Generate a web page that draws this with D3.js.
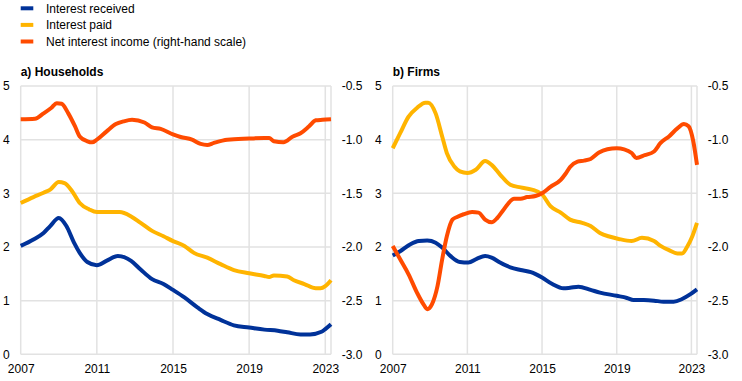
<!DOCTYPE html>
<html><head><meta charset="utf-8">
<script src="https://cdn.jsdelivr.net/npm/d3@7"></script>
<style>
body{margin:0;background:#fff;}
text{font-family:"Liberation Sans",Arial,sans-serif;font-size:12px;fill:#000;}
</style></head>
<body><svg id="c" width="742" height="381"></svg>
<script>
const seriesNames = ["Interest received","Interest paid","Net interest income (right-hand scale)"];
const seriesColors = ["#003299","#FFB400","#FF4B00"];
const panelTitles = ["a) Households","b) Firms"];
const xTickYears = [2007,2011,2015,2019,2023];
const leftTicks = [0,1,2,3,4,5];
const rightTicks = [-3.0,-2.5,-2.0,-1.5,-1.0,-0.5];

// Households
const hhReceived = [[2007.0,2.02],[2007.67,2.14],[2008.2,2.26],[2008.55,2.39],[2009.0,2.54],[2009.4,2.39],[2009.8,2.08],[2010.1,1.89],[2010.5,1.72],[2011.0,1.66],[2011.5,1.74],[2012.1,1.83],[2012.8,1.74],[2013.3,1.58],[2013.9,1.40],[2014.5,1.31],[2015.0,1.20],[2015.6,1.06],[2016.3,0.87],[2016.8,0.75],[2017.5,0.64],[2018.2,0.54],[2019.0,0.50],[2019.8,0.46],[2020.5,0.44],[2021.0,0.41],[2021.7,0.37],[2022.2,0.37],[2022.8,0.42],[2023.0,0.47],[2023.3,0.56]];
const hhPaid = [[2007.0,2.82],[2007.67,2.93],[2008.2,3.01],[2008.55,3.07],[2009.0,3.21],[2009.3,3.19],[2009.7,3.04],[2010.1,2.82],[2010.6,2.70],[2011.0,2.65],[2011.5,2.65],[2012.2,2.65],[2012.8,2.57],[2013.3,2.45],[2013.9,2.30],[2014.5,2.20],[2015.0,2.11],[2015.6,2.02],[2016.1,1.89],[2016.8,1.80],[2017.5,1.68],[2018.2,1.57],[2019.0,1.51],[2019.8,1.46],[2020.05,1.44],[2020.3,1.47],[2021.0,1.45],[2021.35,1.38],[2021.9,1.31],[2022.5,1.23],[2022.75,1.23],[2023.0,1.27],[2023.3,1.38]];
const hhNet = [[2007.0,-0.81],[2007.75,-0.805],[2008.2,-0.755],[2008.6,-0.705],[2008.9,-0.66],[2009.15,-0.665],[2009.5,-0.755],[2009.85,-0.875],[2010.1,-0.97],[2010.5,-1.015],[2010.75,-1.025],[2011.0,-1.0],[2011.5,-0.925],[2012.0,-0.855],[2012.4,-0.83],[2012.85,-0.815],[2013.5,-0.84],[2013.9,-0.885],[2014.35,-0.90],[2015.0,-0.95],[2015.4,-0.975],[2016.0,-1.0],[2016.45,-1.04],[2016.8,-1.05],[2017.15,-1.03],[2017.85,-1.0],[2019.0,-0.99],[2019.8,-0.985],[2020.05,-0.985],[2020.3,-1.015],[2020.8,-1.025],[2021.3,-0.97],[2021.7,-0.94],[2022.15,-0.875],[2022.5,-0.82],[2022.85,-0.815],[2023.3,-0.81]];

// Firms
const fiReceived = [[2007.0,1.84],[2007.4,1.92],[2007.95,2.05],[2008.4,2.11],[2008.85,2.12],[2009.3,2.08],[2009.65,1.99],[2010.1,1.83],[2010.6,1.72],[2011.05,1.71],[2011.5,1.78],[2011.95,1.83],[2012.3,1.80],[2012.75,1.71],[2013.3,1.62],[2013.85,1.57],[2014.4,1.53],[2015.0,1.43],[2015.55,1.31],[2016.15,1.23],[2016.5,1.24],[2016.95,1.26],[2017.6,1.20],[2018.1,1.15],[2019.0,1.09],[2019.55,1.05],[2019.9,1.01],[2020.45,1.01],[2021.0,1.00],[2021.5,0.98],[2022.05,0.98],[2022.5,1.03],[2022.95,1.12],[2023.3,1.21]];
const fiPaid = [[2007.0,3.84],[2007.4,4.12],[2007.85,4.43],[2008.3,4.59],[2008.75,4.69],[2008.9,4.69],[2009.3,4.49],[2009.65,4.06],[2009.9,3.75],[2010.3,3.50],[2010.6,3.41],[2011.0,3.38],[2011.45,3.44],[2011.95,3.60],[2012.3,3.53],[2012.75,3.35],[2013.3,3.16],[2013.85,3.11],[2014.45,3.07],[2015.0,2.98],[2015.45,2.76],[2016.0,2.64],[2016.5,2.51],[2017.15,2.45],[2017.6,2.39],[2018.1,2.26],[2018.65,2.19],[2019.1,2.15],[2019.8,2.11],[2020.35,2.17],[2021.0,2.11],[2021.35,2.02],[2021.8,1.94],[2022.25,1.88],[2022.5,1.88],[2022.75,1.99],[2023.05,2.20],[2023.3,2.45]];
const fiNet = [[2007.0,-1.99],[2007.4,-2.115],[2007.85,-2.255],[2008.3,-2.425],[2008.65,-2.535],[2008.85,-2.58],[2009.1,-2.535],[2009.4,-2.365],[2009.65,-2.115],[2009.9,-1.90],[2010.2,-1.745],[2010.45,-1.72],[2010.8,-1.695],[2011.25,-1.675],[2011.6,-1.68],[2011.95,-1.745],[2012.3,-1.77],[2012.6,-1.73],[2012.95,-1.65],[2013.5,-1.55],[2013.85,-1.55],[2014.2,-1.535],[2014.65,-1.525],[2015.0,-1.50],[2015.45,-1.44],[2016.0,-1.375],[2016.25,-1.32],[2016.5,-1.255],[2016.9,-1.205],[2017.25,-1.195],[2017.6,-1.18],[2018.05,-1.12],[2018.5,-1.09],[2019.0,-1.08],[2019.4,-1.09],[2019.8,-1.125],[2020.05,-1.17],[2020.5,-1.145],[2021.0,-1.11],[2021.35,-1.03],[2021.8,-0.97],[2022.25,-0.895],[2022.6,-0.855],[2022.85,-0.875],[2023.1,-1.015],[2023.3,-1.235]];

const panels = [
  {title: panelTitles[0], x0: 20.7, x1: 331, data: [hhReceived, hhPaid, hhNet]},
  {title: panelTitles[1], x0: 392.7, x1: 697, data: [fiReceived, fiPaid, fiNet]}
];
const plotTop = 86, plotBottom = 354.3;
const svg = d3.select("#c");

// legend
seriesNames.forEach((n,i)=>{
  const y = 8.3 + i*16.6;
  svg.append("line").attr("x1",20.7).attr("x2",33.3).attr("y1",y).attr("y2",y)
    .attr("stroke",seriesColors[i]).attr("stroke-width",4);
  svg.append("text").attr("x",46).attr("y",y+4.3).attr("font-size",12.5).text(n);
});

panels.forEach(p=>{
  const g = svg.append("g");
  const x = d3.scaleLinear().domain([2007,2023.3]).range([p.x0,p.x1]);
  const yL = d3.scaleLinear().domain([0,5]).range([plotBottom,plotTop]);
  const yR = d3.scaleLinear().domain([-3,-0.5]).range([plotBottom,plotTop]);
  const grid = "#e2e2e2";
  leftTicks.forEach(t=>{
    g.append("line").attr("x1",p.x0).attr("x2",p.x1).attr("y1",yL(t)).attr("y2",yL(t))
      .attr("stroke",grid).attr("stroke-width",1.5);
  });
  xTickYears.slice(1).concat([2007,2023.3]).forEach(t=>{
    g.append("line").attr("x1",x(t)).attr("x2",x(t)).attr("y1",plotTop).attr("y2",plotBottom)
      .attr("stroke",grid).attr("stroke-width",1.5);
  });
  const axL = g.append("g").attr("transform",`translate(${p.x0},0)`)
    .call(d3.axisLeft(yL).tickValues(leftTicks).tickSize(0).tickPadding(11).tickFormat(d3.format("d")));
  const axR = g.append("g").attr("transform",`translate(${p.x1},0)`)
    .call(d3.axisRight(yR).tickValues(rightTicks).tickSize(0).tickPadding(10.7).tickFormat(d3.format(".1f")));
  const axB = g.append("g").attr("transform",`translate(0,${plotBottom})`)
    .call(d3.axisBottom(x).tickValues(xTickYears).tickSize(0).tickPadding(10).tickFormat(d3.format("d")));
  [axL,axR,axB].forEach(a=>{
    a.select(".domain").remove();
    a.selectAll("text").attr("font-family","Liberation Sans, Arial, sans-serif").attr("font-size",12).attr("fill","#000");
  });
  axR.selectAll("text").text(d=>d3.format(".1f")(d).replace("−","-"));
  svg.append("text").attr("x",p.x0).attr("y",75.5).attr("font-weight","bold").attr("font-size",12.2).text(p.title);
  p.data.forEach((d,i)=>{
    const ys = i===2 ? yR : yL;
    const line = d3.line().x(v=>x(v[0])).y(v=>ys(v[1])).curve(d3.curveMonotoneX);
    g.append("path").datum(d).attr("d",line).attr("fill","none")
      .attr("stroke",seriesColors[i]).attr("stroke-width",4).attr("stroke-linejoin","round").attr("stroke-linecap","butt");
  });
});
</script></body></html>
